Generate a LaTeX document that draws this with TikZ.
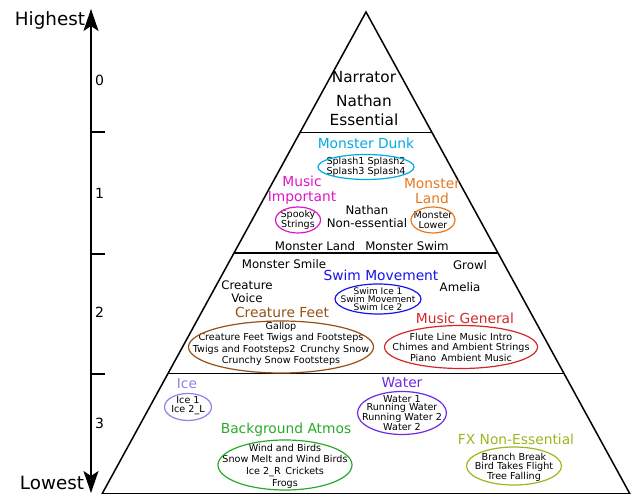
\documentclass[tikz,border=0pt]{standalone}
\usepackage{fontspec}
\setmainfont{DejaVu Sans}
\usetikzlibrary{calc,arrows.meta}

\definecolor{dunkcol}{RGB}{0,170,230}
\definecolor{musimpcol}{RGB}{225,20,200}
\definecolor{landcol}{RGB}{230,120,30}
\definecolor{swimcol}{RGB}{20,20,235}
\definecolor{feetcol}{RGB}{150,80,20}
\definecolor{musgencol}{RGB}{210,40,40}
\definecolor{icecol}{RGB}{140,130,230}
\definecolor{watercol}{RGB}{110,40,230}
\definecolor{atmoscol}{RGB}{40,170,40}
\definecolor{fxcol}{RGB}{160,180,30}

\begin{document}
\begin{tikzpicture}[x=1pt, y=-1pt,
	big/.style={font=\fontsize{15.3}{20}\selectfont, inner sep=0pt},
	mid/.style={font=\fontsize{11.8}{12.8}\selectfont, align=center, inner sep=0pt},
	head/.style={font=\fontsize{13.8}{14.8}\selectfont, align=center, inner sep=0pt},
	small/.style={font=\fontsize{9.6}{#1}\selectfont, align=center, inner sep=0pt},
	small/.default=11.3,
	ring/.style={draw=#1, line width=1.2pt},
	edge/.style={line width=1.5pt},
	axis/.style={line width=1.7pt, {Stealth[length=22pt,width=15pt,inset=5pt]}-{Stealth[length=22pt,width=15pt,inset=5pt]}}]
	\useasboundingbox (0,0) rectangle (633,494);

	% scale on the left
	\coordinate (hi) at (91,9);
	\coordinate (lo) at (91,493);
	\draw[axis] (lo) -- (hi);
	\node[font=\fontsize{18.3}{20}\selectfont] (highest) at (50,20) {Highest};
	\node[font=\fontsize{18.3}{20}\selectfont] (lowest) at (52,483) {Lowest};
	\foreach \y in {132,254,374}
		\draw[line width=1.3pt] (91,\y) -- (105,\y);
	\foreach \y/\n in {80/0,193/1,312/2,423/3}
		\node[font=\fontsize{14}{15}\selectfont] (lvl\n) at (99.5,\y) {\n};

	% pyramid
	\coordinate (top) at (366,12);
	\coordinate (bl) at (102,494);
	\coordinate (br) at (630,494);
	\draw[edge] (top) -- (bl) -- (br) -- cycle;
	\foreach \t in {0.25,0.5,0.75}
		\draw[edge] ($(top)!\t!(bl)$) -- ($(top)!\t!(br)$);

	% level 0
	\node[big] (narrator) at (364,77) {Narrator};
	\node[big] (nathan) at (364,101) {Nathan};
	\node[big] (essential) at (364,120) {Essential};

	% level 1
	\node[head, text=dunkcol] (dunklbl) at (366,143) {Monster Dunk};
	\node[small=9.5] (dunk) at (366,167) {Splash1 Splash2\\Splash3 Splash4};
	\draw[ring=dunkcol] (dunk) ellipse [x radius=48pt, y radius=12.5pt];
	\node[head, text=musimpcol] (musimplbl) at (302,190) {Music\\Important};
	\node[small=10.5] (spooky) at (298,220) {Spooky\\Strings};
	\draw[ring=musimpcol] (spooky) ellipse [x radius=22.5pt, y radius=13pt];
	\node[head, text=landcol] (landlbl) at (432,191) {Monster\\Land};
	\node[small=10.5] (lower) at (433,220) {Monster\\Lower};
	\draw[ring=landcol] (lower) ellipse [x radius=22pt, y radius=13pt];
	\node[mid] (nathanne) at (367,217) {Nathan\\Non-essential};
	\node[mid] (mland) at (315,246) {Monster Land};
	\node[mid] (mswim) at (407,246) {Monster Swim};

	% level 2
	\node[mid] (msmile) at (284,264) {Monster Smile};
	\node[mid] (growl) at (470,265) {Growl};
	\node[mid] (amelia) at (460,287) {Amelia};
	\node[mid] (cvoice) at (247,292) {Creature\\Voice};
	\node[head, text=swimcol] (swimlbl) at (381,275) {Swim Movement};
	\node[font=\fontsize{9}{8}\selectfont, align=center, inner sep=0pt] (swim) at (378,299) {Swim Ice 1\\Swim Movement\\Swim Ice 2};
	\draw[ring=swimcol] (swim) ellipse [x radius=43pt, y radius=15pt];
	\node[head, text=feetcol] (feetlbl) at (282,312) {Creature Feet};
	\node[small] (feet) at (281,344) {Gallop\\Creature Feet Twigs and Footsteps\\Twigs and Footsteps2\enspace Crunchy Snow\\Crunchy Snow Footsteps};
	\draw[ring=feetcol] (281,347) ellipse [x radius=92.5pt, y radius=26pt];
	\node[head, text=musgencol] (musgenlbl) at (465,318) {Music General};
	\node[small=10.5] (musgen) at (461,347) {Flute Line Music Intro\\Chimes and Ambient Strings\\Piano\enspace Ambient Music};
	\draw[ring=musgencol] (musgen) ellipse [x radius=76.5pt, y radius=21.5pt];

	% level 3
	\node[head, text=icecol] (icelbl) at (187,384) {Ice};
	\node[small=9.2] (ice) at (188,406) {Ice 1\\Ice 2\_L};
	\draw[ring=icecol] (188,407) ellipse [x radius=23.5pt, y radius=13.5pt];
	\node[head, text=watercol] (waterlbl) at (402,383) {Water};
	\node[small=8.3] (water) at (402,413) {Water 1\\Running Water\\Running Water 2\\Water 2};
	\draw[ring=watercol] (water) ellipse [x radius=44.5pt, y radius=21.5pt];
	\node[head, text=atmoscol] (atmoslbl) at (286,430) {Background Atmos};
	\node[small=11.6] (atmos) at (285,466) {Wind and Birds\\Snow Melt and Wind Birds\\Ice 2\_R\enspace Crickets\\Frogs};
	\draw[ring=atmoscol] (285,465) ellipse [x radius=67pt, y radius=25pt];
	\node[head, text=fxcol] (fxlbl) at (516,439) {FX Non-Essential};
	\node[small=9.6] (fx) at (514,467) {Branch Break\\Bird Takes Flight\\Tree Falling};
	\draw[ring=fxcol] (514,466) ellipse [x radius=47.5pt, y radius=19pt];
\end{tikzpicture}
\end{document}
